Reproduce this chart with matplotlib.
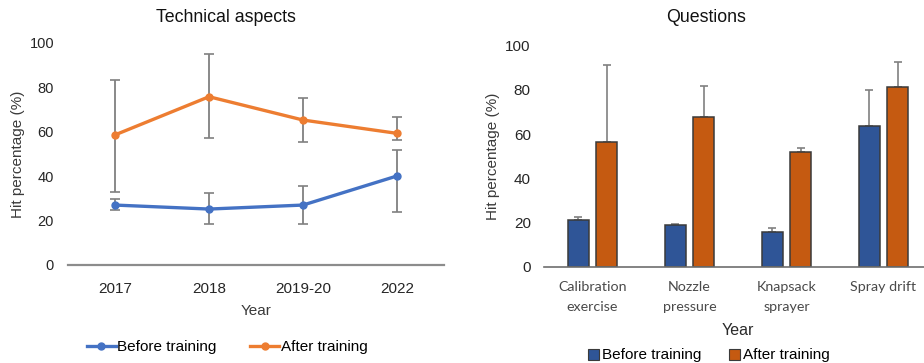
import matplotlib
matplotlib.use("Agg")
import matplotlib.pyplot as plt
import numpy as np
from matplotlib.lines import Line2D
from matplotlib.patches import Patch

plt.rcParams['font.family'] = ['Liberation Sans', 'DejaVu Sans']

# Technical aspects (line chart)
years = ["2017", "2018", "2019-20", "2022"]
tech_before = [27.0, 25.2, 27.0, 40.1]
tech_before_lo = [2.2, 6.9, 8.7, 16.4]
tech_before_hi = [2.6, 7.1, 8.7, 11.6]
tech_after = [58.6, 75.8, 65.3, 59.3]
tech_after_lo = [25.6, 18.4, 9.7, 3.0]
tech_after_hi = [24.7, 19.1, 10.1, 7.4]

# Questions (bar chart)
questions = ["Calibration\nexercise", "Nozzle\npressure", "Knapsack\nsprayer", "Spray drift"]
q_before = [21.1, 18.8, 15.8, 63.5]
q_before_err = [1.4, 0.5, 1.8, 16.5]
q_after = [56.4, 67.9, 51.9, 81.2]
q_after_err = [34.9, 13.9, 1.9, 11.4]

series_labels = ["Before training", "After training"]

W, H = 924, 363
fig = plt.figure(figsize=(W / 100, H / 100), dpi=100)

def fx(px):
    return px / W

def fy(py):
    return 1 - py / H

tick_color = "#262626"
err_color = "#808080"

# ---- Left panel ----
axl = fig.add_axes([fx(68), fy(265), fx(444 - 68), fy(43) - fy(265)])
x = np.arange(len(years))
line_blue = "#4472C4"
line_orange = "#ED7D31"
axl.errorbar(x, tech_after, yerr=[tech_after_lo, tech_after_hi], fmt="none",
             ecolor=err_color, elinewidth=1.3, capsize=3.5, capthick=1.2, zorder=2)
axl.errorbar(x, tech_before, yerr=[tech_before_lo, tech_before_hi], fmt="none",
             ecolor=err_color, elinewidth=1.3, capsize=3.5, capthick=1.2, zorder=2)
axl.plot(x, tech_before, color=line_blue, lw=2.4, marker="o", ms=5, zorder=3)
axl.plot(x, tech_after, color=line_orange, lw=2.4, marker="o", ms=5, zorder=3)
axl.set_xlim(-0.5, 3.5)
axl.set_ylim(0, 100)
axl.set_yticks(np.arange(0, 101, 20))
axl.set_xticks(x)
axl.set_xticklabels(years, fontsize=11, color=tick_color)
axl.tick_params(axis="x", length=0, pad=12)
axl.tick_params(axis="y", length=0, pad=10, labelsize=10.5, labelcolor=tick_color)
for s in ["top", "right", "left"]:
    axl.spines[s].set_visible(False)
axl.spines["bottom"].set_color("#8c8c8c")
axl.spines["bottom"].set_linewidth(1.6)
axl.set_ylabel("Hit percentage (%)", fontsize=11, color="#3a3a3a")
axl.yaxis.set_label_coords((25 - 68) / 376, 0.5)
axl.set_xlabel("Year", fontsize=11, color="#3a3a3a")
axl.xaxis.set_label_coords(0.5, (265 - 304) / 222)
fig.text(fx(226), fy(18), "Technical aspects", ha="center", va="center", fontsize=12.8, color="#111111")

handles_l = [Line2D([0], [0], color=line_blue, lw=2.4, marker="o", ms=5),
             Line2D([0], [0], color=line_orange, lw=2.4, marker="o", ms=5)]
fig.legend(handles_l, series_labels, loc="center", bbox_to_anchor=(fx(227), fy(347.5)),
           ncol=2, frameon=False, fontsize=11, handlelength=1.9, handletextpad=0.1,
           columnspacing=2.2, borderaxespad=0, borderpad=0)

# ---- Right panel ----
axr = fig.add_axes([fx(544), fy(266.7), fx(388), fy(45.7) - fy(266.7)])
xq = np.arange(len(questions))
bar_blue = "#2F5597"
bar_orange = "#C55A11"
bw = 0.225
off = 0.145
axr.bar(xq - off, q_before, bw, color=bar_blue, edgecolor="#3a3a3a", lw=1.1, zorder=2)
axr.bar(xq + off, q_after, bw, color=bar_orange, edgecolor="#3a3a3a", lw=1.1, zorder=2)
axr.errorbar(xq - off, q_before, yerr=[np.zeros(4), q_before_err], fmt="none",
             ecolor=err_color, elinewidth=1.2, capsize=3, capthick=1.2, zorder=1)
axr.errorbar(xq + off, q_after, yerr=[np.zeros(4), q_after_err], fmt="none",
             ecolor=err_color, elinewidth=1.2, capsize=3, capthick=1.2, zorder=1)
axr.set_xlim(-0.5, 3.5)
axr.set_ylim(0, 100)
axr.set_yticks(np.arange(0, 101, 20))
axr.set_xticks(xq)
axr.set_xticklabels(questions, fontsize=10.3, color="#4a4a4a", family=["Lato", "DejaVu Sans"],
                    linespacing=1.75)
axr.tick_params(axis="x", length=0, pad=10.5)
axr.tick_params(axis="y", length=0, pad=9.5, labelsize=11, labelcolor=tick_color)
for s in ["top", "right", "left"]:
    axr.spines[s].set_visible(False)
axr.spines["bottom"].set_color("#6e6e6e")
axr.spines["bottom"].set_linewidth(1.2)
axr.set_ylabel("Hit percentage (%)", fontsize=11, color="#3a3a3a")
axr.yaxis.set_label_coords((500 - 544) / 388, 0.5)
axr.set_xlabel("Year", fontsize=11.5, color="#2a2a2a")
axr.xaxis.set_label_coords((738 - 544) / 388, (266.7 - 323) / 221)
fig.text(fx(706), fy(18), "Questions", ha="center", va="center", fontsize=12.8, color="#111111")

handles_r = [Patch(facecolor=bar_blue, edgecolor="#3a3a3a", lw=0.8),
             Patch(facecolor=bar_orange, edgecolor="#3a3a3a", lw=0.8)]
fig.legend(handles_r, series_labels, loc="center", bbox_to_anchor=(fx(709), fy(355.5)),
           ncol=2, frameon=False, fontsize=11, handlelength=0.7, handleheight=0.7,
           handletextpad=0.2, columnspacing=1.8, borderaxespad=0, borderpad=0)

fig.savefig("out.png", dpi=100)
